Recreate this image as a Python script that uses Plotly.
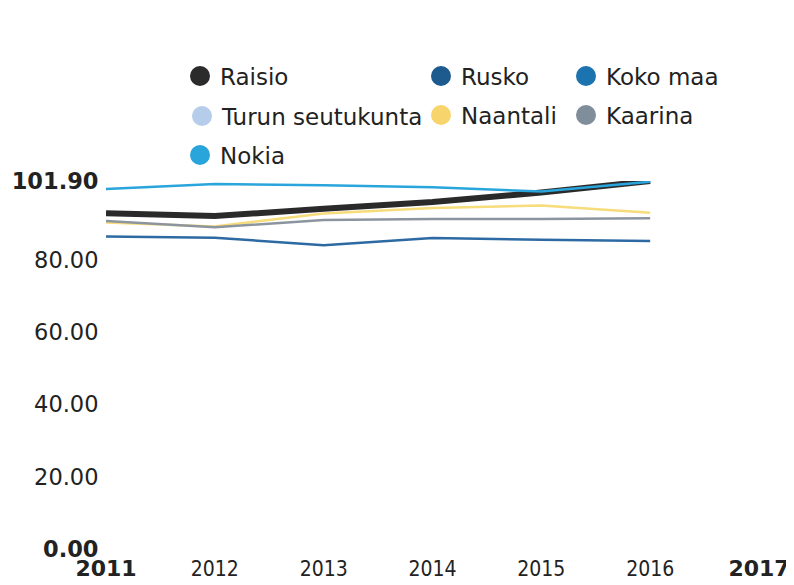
import plotly.graph_objects as go

years = [2011, 2012, 2013, 2014, 2015, 2016]
x_ticks = [2011, 2012, 2013, 2014, 2015, 2016, 2017]
BOLD = '<span style="font-family:DejaVu Sans;font-size:22px"><b>{}</b></span>'
x_ticktext = [BOLD.format("2011"), "2012", "2013", "2014", "2015", "2016", BOLD.format("2017")]
y_ticks = [0, 20, 40, 60, 80, 101.9]
y_ticktext = ["<b>0.00</b>", "20.00", "40.00", "60.00", "80.00", "<b>101.90</b>"]

raisio = [93.0, 92.2, 94.2, 96.1, 98.7, 101.9]
turun_seutukunta = [93.0, 92.3, 94.1, 96.0, 98.6, 101.8]
koko_maa = [92.9, 92.2, 94.2, 96.1, 98.7, 101.8]
rusko = [86.5, 86.2, 84.1, 86.1, 85.6, 85.3]
naantali = [90.4, 89.3, 92.9, 94.4, 95.1, 93.1]
kaarina = [90.8, 89.1, 91.1, 91.4, 91.4, 91.6]
nokia = [99.7, 101.1, 100.7, 100.2, 99.0, 101.7]

series = [
    ("Turun seutukunta", turun_seutukunta, "#b5cdea", 2),
    ("Koko maa", koko_maa, "#1b75b4", 2),
    ("Raisio", raisio, "#2a2a2a", 6),
    ("Rusko", rusko, "#2d6aa3", 2.5),
    ("Naantali", naantali, "#f6dc7a", 2.5),
    ("Kaarina", kaarina, "#8c959f", 2.5),
    ("Nokia", nokia, "#2aa5dc", 2.5),
]

# (name, colour, dot centre x, dot centre y) in window pixels
legend_items = [
    ("Raisio", "#2b2b2b", 200, 76),
    ("Rusko", "#1d5a8e", 441, 76),
    ("Koko maa", "#1b73b0", 586, 76),
    ("Turun seutukunta", "#b5cdea", 202, 116),
    ("Naantali", "#f8d56c", 441, 115),
    ("Kaarina", "#808d9b", 586, 115),
    ("Nokia", "#2aa5dc", 200, 155),
]

OFF = 8  # page body margin
W, H = 794 - OFF, 585 - OFF

fig = go.Figure()
for name, vals, color, width in series:
    fig.add_trace(go.Scatter(x=years, y=vals, mode="lines", name=name,
                             line=dict(color=color, width=width),
                             showlegend=False, hoverinfo="skip"))

layout_legends = {}
for i, (name, color, px, py) in enumerate(legend_items):
    key = "legend" if i == 0 else f"legend{i+1}"
    fig.add_trace(go.Scatter(x=[None], y=[None], mode="markers", name=name,
                             marker=dict(color=color, size=16,
                                         line=dict(color=color, width=4)),
                             showlegend=True, legend=key))
    layout_legends[key] = dict(
        xref="container", yref="container",
        x=(px - OFF - 20) / W, y=1 - (py - OFF) / H,
        xanchor="left", yanchor="middle",
        bgcolor="rgba(0,0,0,0)", borderwidth=0,
        font=dict(family="DejaVu Sans", size=23, color="#222222"),
        itemsizing="trace",
    )

fig.update_layout(
    width=W, height=H,
    margin=dict(l=106 - OFF, r=35, t=181 - OFF, b=36, autoexpand=False),
    paper_bgcolor="white", plot_bgcolor="white",
    xaxis=dict(range=[2011, 2017], tickvals=x_ticks, ticktext=x_ticktext,
               showgrid=False, zeroline=False, showline=False,
               ticks="outside", ticklen=1, tickcolor="rgba(0,0,0,0)",
               tickfont=dict(family="DejaVu Sans Condensed, DejaVu Sans", size=21, color="#222222")),
    yaxis=dict(range=[0, 101.9], tickvals=y_ticks, ticktext=y_ticktext,
               showgrid=False, zeroline=False, showline=False,
               ticks="outside", ticklen=2, tickcolor="rgba(0,0,0,0)",
               tickfont=dict(family="DejaVu Sans", size=22.5, color="#222222")),
    **layout_legends,
)

fig.write_html("out.html")
